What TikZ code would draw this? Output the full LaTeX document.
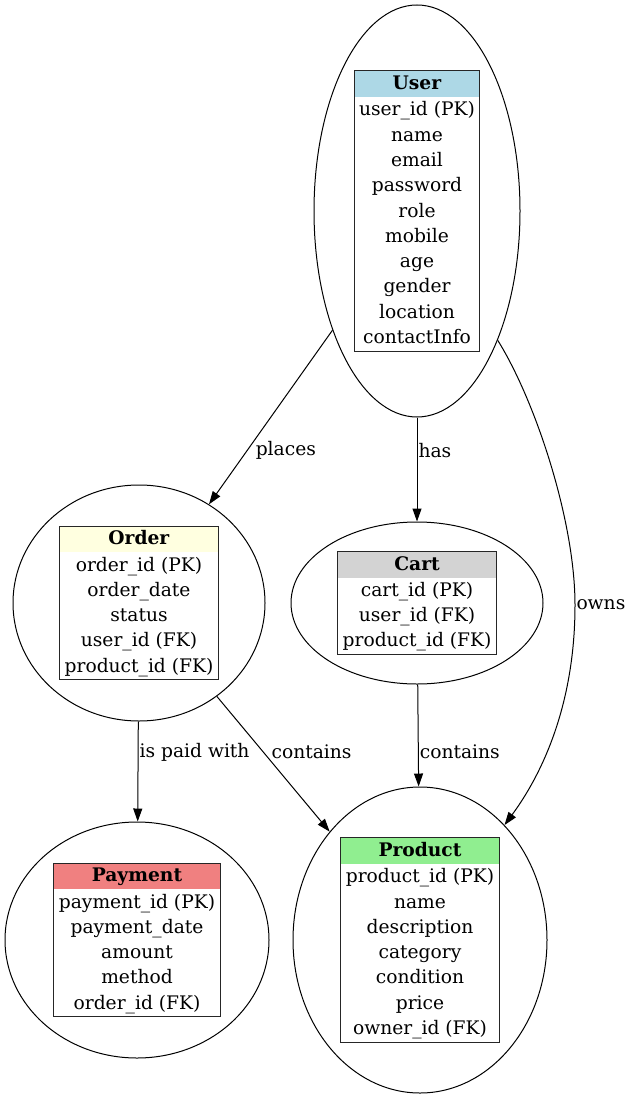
\documentclass[tikz,border=0pt]{standalone}
\usepackage{fontspec}
\setmainfont{DejaVu Serif}
\usetikzlibrary{arrows.meta, positioning, shapes.geometric, shapes.multipart}
\definecolor{UserBlue}{HTML}{ADD8E6}
\definecolor{OrderYellow}{HTML}{FFFFE0}
\definecolor{CartGrey}{HTML}{D3D3D3}
\definecolor{PaymentRed}{HTML}{F08080}
\definecolor{ProductGreen}{HTML}{90EE90}
\newcommand{\rowstrut}{\rule[-7.15pt]{0pt}{25.3pt}}
\tikzset{%
  entity/.style={%
    ellipse,%
    draw=black,%
    line width=1pt,%
    inner sep=0pt,%
  },
  erd_table/.style={%
    rectangle split,%
    rectangle split parts=2,%
    rectangle split draw splits=false,%
    rectangle split part fill={#1, white},%
    draw=black!85,%
    line width=1pt,%
    inner xsep=5pt,%
    inner ysep=0pt,%
    align=center,%
    font={\fontsize{18.67}{25.3}\selectfont},%
  },
  relation/.style={%
    draw=black,%
    line width=1pt,%
    -{Triangle[length=13pt, width=9pt]},%
  },
  annotate/.style={%
    font={\fontsize{18.67}{22}\selectfont},%
    inner sep=1pt,%
  },
}

\begin{document}
\begin{tikzpicture}[x=1pt, y=-1pt]
    \useasboundingbox (0,0) rectangle (631,1099);

    % entities
    \node [entity, minimum width=206, minimum height=412] (User) at (417,211) {};
    \node [entity, minimum width=252, minimum height=236] (Order) at (139,603) {};
    \node [entity, minimum width=252, minimum height=162] (Cart) at (417,603) {};
    \node [entity, minimum width=264, minimum height=236] (Payment) at (137,940) {};
    \node [entity, minimum width=254, minimum height=306] (Product) at (420,940) {};

    % attribute tables
    \node [erd_table=UserBlue] (User_table) at (User.center) {%
      \rowstrut\textbf{User}%
      \nodepart{two}%
      \rowstrut user\_id (PK)\\ \rowstrut name\\ \rowstrut email\\
      \rowstrut password\\ \rowstrut role\\ \rowstrut mobile\\
      \rowstrut age\\ \rowstrut gender\\ \rowstrut location\\
      \rowstrut contactInfo%
    };
    \node [erd_table=OrderYellow] (Order_table) at (Order.center) {%
      \rowstrut\textbf{Order}%
      \nodepart{two}%
      \rowstrut order\_id (PK)\\ \rowstrut order\_date\\ \rowstrut status\\
      \rowstrut user\_id (FK)\\ \rowstrut product\_id (FK)%
    };
    \node [erd_table=CartGrey] (Cart_table) at (Cart.center) {%
      \rowstrut\textbf{Cart}%
      \nodepart{two}%
      \rowstrut cart\_id (PK)\\ \rowstrut user\_id (FK)\\
      \rowstrut product\_id (FK)%
    };
    \node [erd_table=PaymentRed] (Payment_table) at (Payment.center) {%
      \rowstrut\textbf{Payment}%
      \nodepart{two}%
      \rowstrut payment\_id (PK)\\ \rowstrut payment\_date\\
      \rowstrut amount\\ \rowstrut method\\ \rowstrut order\_id (FK)%
    };
    \node [erd_table=ProductGreen] (Product_table) at (Product.center) {%
      \rowstrut\textbf{Product}%
      \nodepart{two}%
      \rowstrut product\_id (PK)\\ \rowstrut name\\ \rowstrut description\\
      \rowstrut category\\ \rowstrut condition\\ \rowstrut price\\
      \rowstrut owner\_id (FK)%
    };

    \coordinate (owns_mid) at (575,605);

    % relations
    \draw [relation]
      (User)
      --
      (Order)
      node [annotate, pos=0.69, anchor=west, xshift=7pt] {places};
    \draw [relation]
      (User)
      --
      (Cart)
      node [annotate, pos=0.32, anchor=west] {has};
    \draw [relation]
      (User)
      .. controls (535,400) and (575,520) ..
      (owns_mid)
      node [annotate, anchor=west] {owns}
      .. controls (575,700) and (545,770) ..
      (Product);
    \draw [relation]
      (Order)
      --
      (Payment)
      node [annotate, pos=0.31, anchor=west] {is paid with};
    \draw [relation]
      (Order)
      --
      (Product)
      node [annotate, pos=0.41, anchor=west, xshift=7pt] {contains};
    \draw [relation]
      (Cart)
      --
      (Product)
      node [annotate, pos=0.66, anchor=west] {contains};
  \end{tikzpicture}
\end{document}
